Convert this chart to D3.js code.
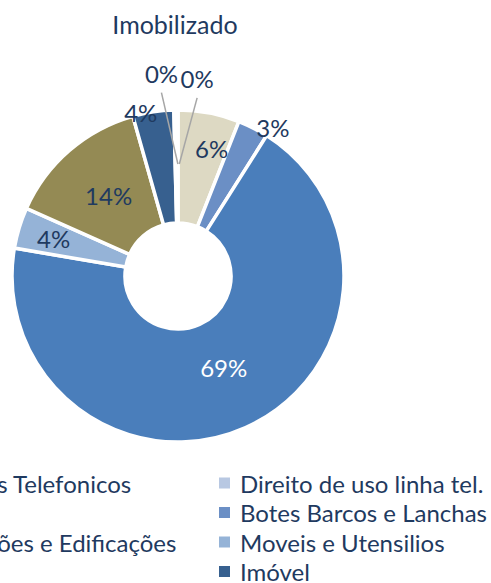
<!DOCTYPE html>
<html>
<head>
<meta charset="utf-8">
<script src="https://cdn.jsdelivr.net/npm/d3@7"></script>
<style>
  html, body { margin: 0; padding: 0; background: #fff; overflow: hidden; }
  text { font-family: Lato, "Open Sans", sans-serif; }
</style>
</head>
<body>
<script>
// slices, clockwise from 12 o'clock
var categories = ["Aparelhos Telefonicos", "Botes Barcos e Lanchas", "Veículos",
                  "Moveis e Utensilios", "Construções e Edificações", "Imóvel",
                  "Direito de uso linha tel.", "Terrenos"];
var values = [6, 3, 69, 4, 14, 4, 0.2, 0.2];
var colors = ["#DDD9C3", "#6B8FC5", "#4A7EBB", "#95B3D7", "#948A54", "#37608F", "#B8C8E2", "#C6D3E8"];
// excel fills the legend row by row, two columns
var legendOrder = ["Aparelhos Telefonicos", "Direito de uso linha tel.",
                   "Veículos", "Botes Barcos e Lanchas",
                   "Construções e Edificações", "Moveis e Utensilios",
                   "Terrenos", "Imóvel"];
var title = "Imobilizado";

var width = 491, height = 583;
var cx = 178, cy = 276,
    outerR = 166, innerR = 53;
var textColor = "#1F3A60";

// label placement: [radius, angle offset in degrees from slice middle]
var labelPlace = {
  "Aparelhos Telefonicos": [132, 4],
  "Botes Barcos e Lanchas": [176, 5.7],
  "Veículos": [102, -2.6],
  "Moveis e Utensilios": [130, 0],
  "Construções e Edificações": [106, 0],
  "Imóvel": [168, -4.2],
  "Direito de uso linha tel.": [203, -3.6],
  "Terrenos": [198, 5.9]
};

var svg = d3.select("body").append("svg")
    .attr("width", width)
    .attr("height", height);

svg.append("text")
    .attr("x", 175).attr("y", 24)
    .attr("text-anchor", "middle")
    .attr("dominant-baseline", "central")
    .style("font-size", "25px")
    .style("fill", textColor)
    .text(title);

var color = d3.scaleOrdinal().domain(categories).range(colors);

var data = categories.map(function(c, i){ return {name: c, value: values[i]}; });

var pie = d3.pie().sort(null).value(function(d){ return d.value; });
var arc = d3.arc().innerRadius(innerR).outerRadius(outerR);
var arcs = pie(data);

var g = svg.append("g").attr("transform", "translate(" + cx + "," + cy + ")");

g.selectAll("path.slice").data(arcs)
  .enter().append("path").attr("class", "slice")
    .attr("d", arc)
    .style("fill", function(d){ return color(d.data.name); })
    .style("stroke", "#fff")
    .style("stroke-width", 3.5)
    .style("stroke-linejoin", "miter");

function polar(r, a){
  return [r * Math.sin(a), -r * Math.cos(a)];
}

function labelPos(d){
  var p = labelPlace[d.data.name];
  var mid = (d.startAngle + d.endAngle) / 2 + p[1] * Math.PI / 180;
  return polar(p[0], mid);
}

// leader lines for the tiny slices
var tiny = arcs.filter(function(d){ return d.data.value < 1; });
g.selectAll("line.leader").data(tiny)
  .enter().append("line").attr("class", "leader")
    .attr("x1", function(d){ return labelPos(d)[0]; })
    .attr("y1", function(d){ return labelPos(d)[1] + 19; })
    .attr("x2", function(d){ return polar(112, (d.startAngle + d.endAngle) / 2)[0] + 2; })
    .attr("y2", function(d){ return polar(112, (d.startAngle + d.endAngle) / 2)[1]; })
    .style("stroke", "#A6A6A6")
    .style("stroke-width", 1.5);

g.selectAll("text.lbl").data(arcs)
  .enter().append("text").attr("class", "lbl")
    .attr("x", function(d){ return labelPos(d)[0]; })
    .attr("y", function(d){ return labelPos(d)[1]; })
    .attr("text-anchor", "middle")
    .attr("dominant-baseline", "central")
    .style("font-size", "24px")
    .style("fill", function(d){ return d.data.value > 50 ? "#fff" : textColor; })
    .text(function(d){ return Math.round(d.data.value) + "%"; });

// legend
var rowH = 29.5, legTop = 483, colX = [-119, 219], swatch = 11;
var leg = svg.append("g").attr("class", "legend");
var item = leg.selectAll("g.item").data(legendOrder)
  .enter().append("g").attr("class", "item")
    .attr("transform", function(d, i){
      return "translate(" + colX[i % 2] + "," + (legTop + Math.floor(i / 2) * rowH) + ")";
    });
item.append("rect")
    .attr("x", 0).attr("y", -swatch / 2)
    .attr("width", swatch).attr("height", swatch)
    .style("fill", function(d){ return color(d); });
item.append("text")
    .attr("x", 21).attr("y", 0)
    .attr("dominant-baseline", "central")
    .style("font-size", "24px")
    .style("fill", textColor)
    .text(function(d){ return d; });
</script>
</body>
</html>
